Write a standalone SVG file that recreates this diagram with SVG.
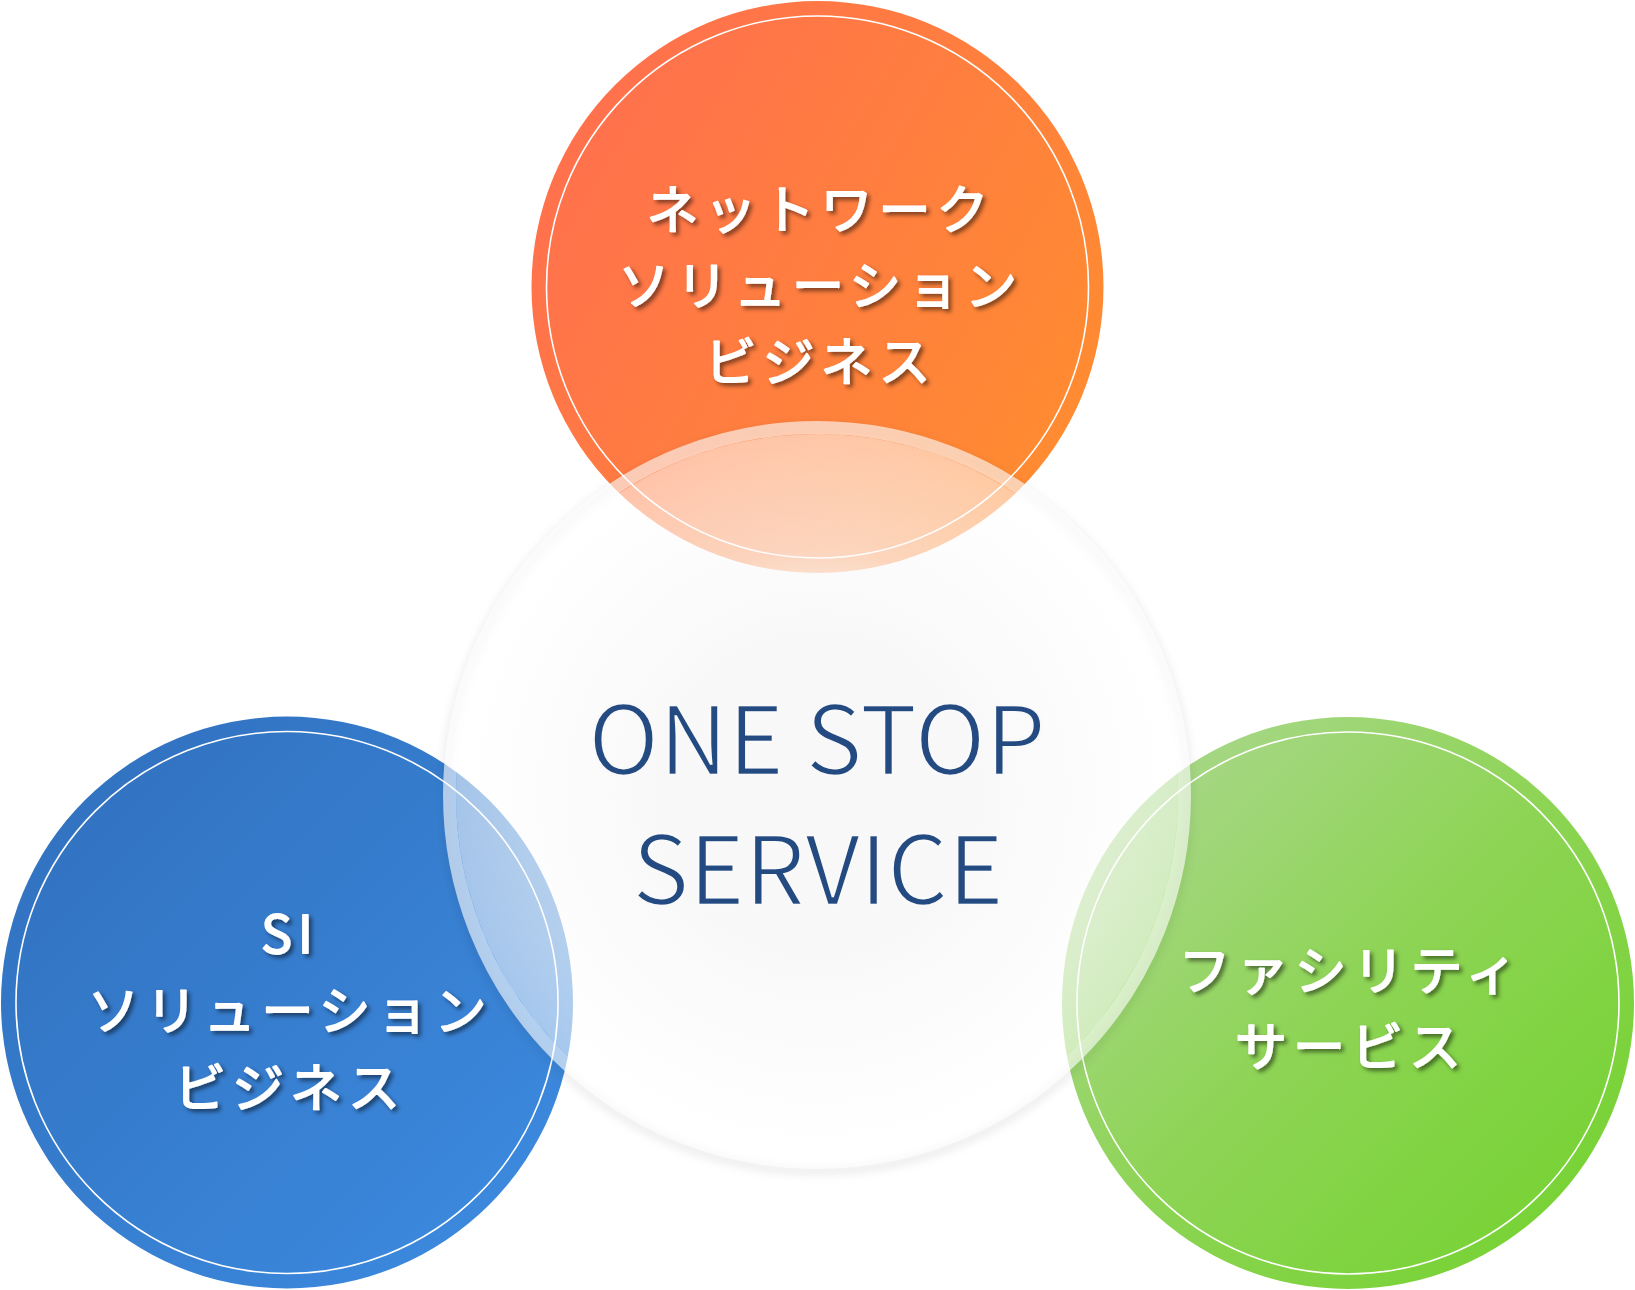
<svg xmlns="http://www.w3.org/2000/svg" width="1635" height="1290" viewBox="0 0 1635 1290">
  <style>
    .label { font-family: "Noto Sans CJK JP", "Noto Sans", sans-serif; font-size: 52px; font-weight: 400; fill: #ffffff; stroke: #ffffff; stroke-width: 1.8; stroke-linejoin: round; letter-spacing: 6px; text-anchor: middle; filter: url(#txtShadow); }
    .center-text { font-family: "Noto Sans CJK JP", "Noto Sans", sans-serif; font-size: 96px; font-weight: 400; fill: #244a82; stroke: #f9f9f9; stroke-width: 2.4; }
    .inner-ring { fill: none; stroke: #ffffff; stroke-width: 1.6; }
  </style>
  <defs>
    <linearGradient id="gOrange" x1="0" y1="0.2" x2="1" y2="0.8">
      <stop offset="0" stop-color="#ff6f4f"/>
      <stop offset="1" stop-color="#ff8d2f"/>
    </linearGradient>
    <linearGradient id="gBlue" x1="0" y1="0" x2="1" y2="1">
      <stop offset="0" stop-color="#306fbc"/>
      <stop offset="1" stop-color="#3d8ce2"/>
    </linearGradient>
    <linearGradient id="gGreen" x1="0" y1="0" x2="1" y2="1">
      <stop offset="0" stop-color="#b0d898"/>
      <stop offset="0.5" stop-color="#8dd454"/>
      <stop offset="1" stop-color="#70d22a"/>
    </linearGradient>
    <radialGradient id="gGlass" cx="0.5" cy="0.5" r="0.5">
      <stop offset="0" stop-color="#f8f8f8" stop-opacity="1"/>
      <stop offset="0.45" stop-color="#f8f8f8" stop-opacity="0.97"/>
      <stop offset="0.68" stop-color="#fafafa" stop-opacity="0.68"/>
      <stop offset="1" stop-color="#ffffff" stop-opacity="0.55"/>
    </radialGradient>
    <filter id="txtShadow" x="-10%" y="-30%" width="120%" height="160%">
      <feDropShadow dx="3" dy="3" stdDeviation="2" flood-color="#000000" flood-opacity="0.5"/>
    </filter>
    <filter id="ringShadow" x="-10%" y="-10%" width="120%" height="120%">
      <feGaussianBlur stdDeviation="5"/>
    </filter>
  </defs>

  <g id="node-network">
    <circle cx="817.5" cy="287" r="286" fill="url(#gOrange)"/>
    <circle class="inner-ring" cx="817.5" cy="287" r="271"/>
  </g>
  <g id="node-si">
    <circle cx="287" cy="1002.5" r="286" fill="url(#gBlue)"/>
    <circle class="inner-ring" cx="287" cy="1002.5" r="271"/>
  </g>
  <g id="node-facility">
    <circle cx="1348" cy="1003" r="286" fill="url(#gGreen)"/>
    <circle class="inner-ring" cx="1348" cy="1003" r="271"/>
  </g>

  <g id="node-onestop">
    <circle cx="817" cy="799" r="372" fill="none" stroke="#000000" stroke-opacity="0.10" stroke-width="6" filter="url(#ringShadow)"/>
    <circle cx="817" cy="795" r="367.5" fill="none" stroke="#ffffff" stroke-opacity="0.62" stroke-width="13"/>
    <circle cx="817" cy="795" r="361" fill="url(#gGlass)"/>
    <text class="center-text" x="588" y="775" textLength="458" lengthAdjust="spacing">ONE STOP</text>
    <text class="center-text" x="632" y="905" textLength="372" lengthAdjust="spacing">SERVICE</text>
  </g>

  <g id="labels">
    <text class="label" x="820.5" y="229">ネットワーク</text>
    <text class="label" x="820.5" y="305">ソリューション</text>
    <text class="label" x="820.5" y="381">ビジネス</text>

    <text class="label" x="290" y="953">SI</text>
    <text class="label" x="290" y="1030">ソリューション</text>
    <text class="label" x="290" y="1107">ビジネス</text>

    <text class="label" x="1351" y="990">ファシリティ</text>
    <text class="label" x="1351" y="1066">サービス</text>
  </g>

  <g id="connectors"/>
</svg>
